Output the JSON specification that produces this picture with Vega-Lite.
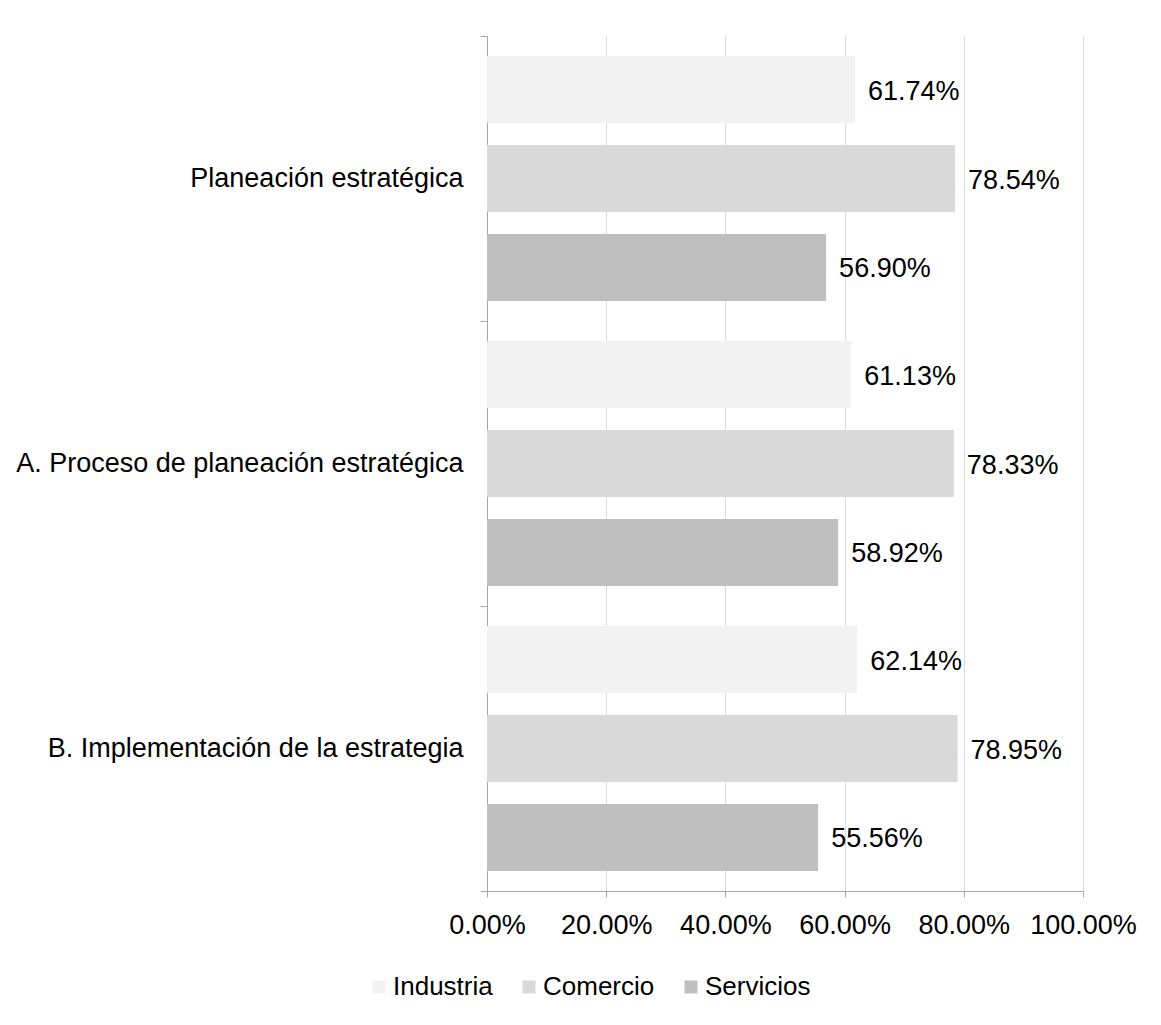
{
  "$schema": "https://vega.github.io/schema/vega-lite/v6.json",
  "autosize": "none",
  "padding": {"left": 487, "top": 36, "right": 78, "bottom": 134},
  "width": 596,
  "height": 855,
  "background": "white",
  "config": {
    "font": "Liberation Sans",
    "view": {"stroke": null}
  },
  "data": {
    "values": [
      {"cat": "Planeación estratégica", "sector": "Industria", "v": 0.6174},
      {"cat": "Planeación estratégica", "sector": "Comercio", "v": 0.7854},
      {"cat": "Planeación estratégica", "sector": "Servicios", "v": 0.5690},
      {"cat": "A. Proceso de planeación estratégica", "sector": "Industria", "v": 0.6113},
      {"cat": "A. Proceso de planeación estratégica", "sector": "Comercio", "v": 0.7833},
      {"cat": "A. Proceso de planeación estratégica", "sector": "Servicios", "v": 0.5892},
      {"cat": "B. Implementación de la estrategia", "sector": "Industria", "v": 0.6214},
      {"cat": "B. Implementación de la estrategia", "sector": "Comercio", "v": 0.7895},
      {"cat": "B. Implementación de la estrategia", "sector": "Servicios", "v": 0.5556}
    ]
  },
  "encoding": {
    "y": {
      "field": "cat", "type": "nominal", "sort": null, "title": null,
      "scale": {"paddingInner": 0, "paddingOuter": 0},
      "axis": {
        "tickBand": "extent", "labelFontSize": 27, "labelColor": "#000000",
        "domainColor": "#a6a6a6", "tickColor": "#a6a6a6", "tickSize": 7,
        "labelPadding": 17, "labelLimit": 600
      }
    },
    "yOffset": {
      "field": "sector", "type": "nominal",
      "sort": ["Industria", "Comercio", "Servicios"],
      "scale": {"paddingInner": 0.247, "paddingOuter": 0.225}
    },
    "x": {
      "field": "v", "type": "quantitative", "title": null,
      "scale": {"domain": [0, 1], "nice": false},
      "axis": {
        "format": ".2%", "values": [0, 0.2, 0.4, 0.6, 0.8, 1],
        "labelFontSize": 27, "labelColor": "#000000",
        "labelOverlap": false, "labelFlush": false,
        "domainColor": "#a6a6a6", "tickColor": "#a6a6a6", "tickSize": 6,
        "gridColor": "#d9d9d9", "labelPadding": 15
      }
    }
  },
  "layer": [
    {
      "mark": {"type": "bar"},
      "encoding": {
        "color": {
          "field": "sector", "type": "nominal",
          "sort": ["Industria", "Comercio", "Servicios"],
          "scale": {"domain": ["Industria", "Comercio", "Servicios"], "range": ["#f2f2f2", "#d9d9d9", "#bfbfbf"]},
          "legend": {
            "title": null, "orient": "none", "direction": "horizontal",
            "legendX": -121, "legendY": 938,
            "symbolType": "square", "symbolSize": 169, "symbolStrokeWidth": 0,
            "labelFontSize": 26, "labelColor": "#000000", "columnPadding": 23,
            "labelOffset": 1
          }
        }
      }
    },
    {
      "mark": {"type": "text", "align": "left", "baseline": "middle", "dx": 13, "dy": 2, "fontSize": 27, "color": "#000000"},
      "encoding": {
        "text": {"field": "v", "type": "quantitative", "format": ".2%"}
      }
    }
  ]
}
